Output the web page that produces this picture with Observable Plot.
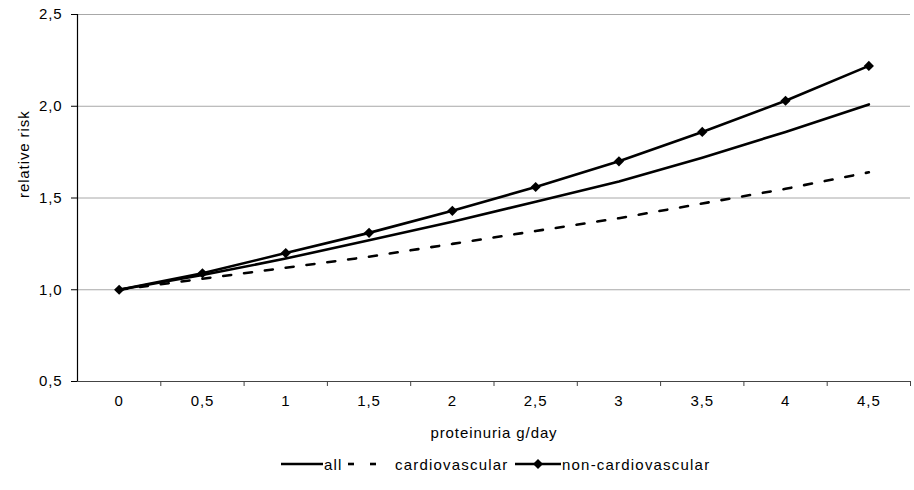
<!DOCTYPE html>
<html>
<head>
<meta charset="utf-8">
<script src="https://cdn.jsdelivr.net/npm/d3@7"></script>
<script src="https://cdn.jsdelivr.net/npm/@observablehq/plot@0.6"></script>
<style>
  body { margin: 0; background: white; font-family: "Liberation Sans", Arial, sans-serif; }
  #legend { position: relative; width: 914px; height: 28px; font-size: 15px; letter-spacing: 1.2px; color: #000; }
  #legend .item { position: absolute; top: 0; height: 28px; display: flex; align-items: center; }
</style>
</head>
<body>
<div id="chart"></div>
<div id="legend"></div>
<script>
// Data
const proteinuria = [0, 0.5, 1, 1.5, 2, 2.5, 3, 3.5, 4, 4.5];
const xTickLabels = ["0", "0,5", "1", "1,5", "2", "2,5", "3", "3,5", "4", "4,5"];
const allRisk = [1.00, 1.08, 1.17, 1.27, 1.37, 1.48, 1.59, 1.72, 1.86, 2.01];
const cardioRisk = [1.00, 1.06, 1.12, 1.18, 1.25, 1.32, 1.39, 1.47, 1.55, 1.64];
const nonCardioRisk = [1.00, 1.09, 1.20, 1.31, 1.43, 1.56, 1.70, 1.86, 2.03, 2.22];
const yTicks = [0.5, 1.0, 1.5, 2.0, 2.5];
const gridValues = [1.0, 1.5, 2.0, 2.5];
const seriesNames = ["all", "cardiovascular", "non-cardiovascular"];

const toRows = (vals) => proteinuria.map((x, i) => ({x, y: vals[i]}));
const allRows = toRows(allRisk);
const cardioRows = toRows(cardioRisk);
const nonCardioRows = toRows(nonCardioRisk);
const bandBounds = proteinuria.map(x => x + 0.25);
const comma = d => d.toFixed(1).replace(".", ",");

const chart = Plot.plot({
  width: 914,
  height: 450,
  marginLeft: 77,
  marginRight: 4,
  marginTop: 14,
  marginBottom: 69,
  style: {fontFamily: "Liberation Sans, Arial, sans-serif", fontSize: "15px", letterSpacing: "0.9px", background: "white", overflow: "visible"},
  x: {domain: [-0.25, 4.75], axis: null},
  y: {domain: [0.5, 2.5], axis: null},
  marks: [
    Plot.ruleY(gridValues, {stroke: "#a8a8a8", strokeWidth: 1}),
    Plot.ruleY([0.5], {stroke: "#444", strokeWidth: 1}),
    Plot.ruleX([-0.25], {stroke: "#000", strokeWidth: 1.2}),
    Plot.axisY({ticks: yTicks, tickFormat: comma, tickSize: 6, tickPadding: 9, label: null, fontSize: 15}),
    Plot.axisX({ticks: bandBounds, tickFormat: () => "", tickSize: 5, label: null, stroke: "#444"}),
    Plot.text(proteinuria, {x: d => d, text: (d, i) => xTickLabels[i], frameAnchor: "bottom", dy: 24, fontSize: 15}),
    Plot.text(["proteinuria g/day"], {frameAnchor: "bottom", dy: 56, fontSize: 15}),
    Plot.text(["relative risk"], {frameAnchor: "left", dx: -53, rotate: -90, fontSize: 15}),
    Plot.line(cardioRows, {x: "x", y: "y", stroke: "#000", strokeWidth: 2.6, strokeDasharray: "8,13"}),
    Plot.line(allRows, {x: "x", y: "y", stroke: "#000", strokeWidth: 2.6}),
    Plot.line(nonCardioRows, {x: "x", y: "y", stroke: "#000", strokeWidth: 2.6}),
    Plot.dot(nonCardioRows, {x: "x", y: "y", symbol: "diamond2", r: 4.6, fill: "#000", stroke: "none"})
  ]
});
document.getElementById("chart").appendChild(chart);

// Legend
const legend = document.getElementById("legend");
function addItem(left, html) {
  const d = document.createElement("div");
  d.className = "item";
  d.style.left = left + "px";
  d.innerHTML = html;
  legend.appendChild(d);
}
addItem(281, `<svg width="42" height="10"><line x1="0" y1="5" x2="42" y2="5" stroke="#000" stroke-width="2.6"/></svg><span style="margin-left:1px">${seriesNames[0]}</span>`);
addItem(346, `<svg width="32" height="10"><line x1="2" y1="5" x2="8" y2="5" stroke="#000" stroke-width="2.6"/><line x1="24" y1="5" x2="30" y2="5" stroke="#000" stroke-width="2.6"/></svg><span style="margin-left:17px">${seriesNames[1]}</span>`);
addItem(515, `<svg width="46" height="12"><line x1="0" y1="6" x2="46" y2="6" stroke="#000" stroke-width="2.6"/><path d="M23,1 L28,6 L23,11 L18,6 Z" fill="#000"/></svg><span style="margin-left:1px">${seriesNames[2]}</span>`);
</script>
</body>
</html>
